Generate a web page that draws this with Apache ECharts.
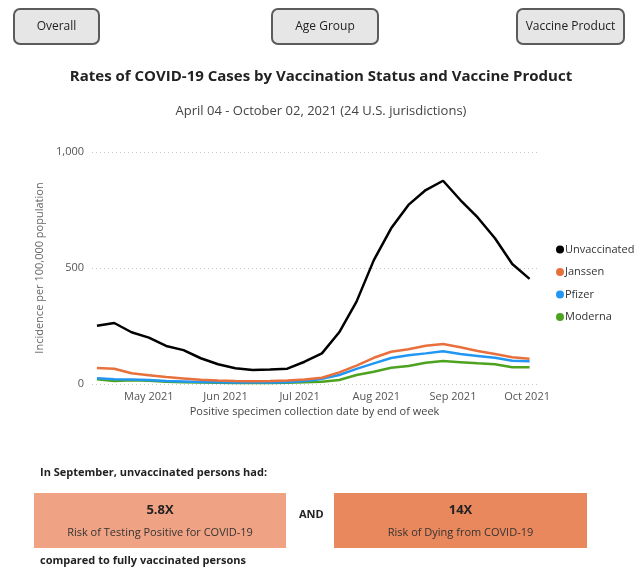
<!DOCTYPE html>
<html>
<head>
<meta charset="utf-8">
<script src="https://cdn.jsdelivr.net/npm/echarts@6/dist/echarts.min.js"></script>
<style>
  html, body { margin: 0; padding: 0; background: #fff; }
  #chart { width: 642px; height: 570px; }
</style>
</head>
<body>
<div id="chart"></div>
<script>
// week ending dates
const weeks = [
  '2021-04-10', '2021-04-17', '2021-04-24', '2021-05-01', '2021-05-08', '2021-05-15',
  '2021-05-22', '2021-05-29', '2021-06-05', '2021-06-12', '2021-06-19', '2021-06-26',
  '2021-07-03', '2021-07-10', '2021-07-17', '2021-07-24', '2021-07-31', '2021-08-07',
  '2021-08-14', '2021-08-21', '2021-08-28', '2021-09-04', '2021-09-11', '2021-09-18',
  '2021-09-25', '2021-10-02'
];

const unvaccinated = [251, 263, 223, 200, 164, 146, 111, 85, 68, 60, 62, 66, 96, 132, 223, 355, 534, 671, 772, 836, 876, 793, 718, 628, 517, 453];
const janssen = [69, 66, 46, 38, 30, 24, 18, 15, 13, 12, 13, 15, 19, 27, 50, 79, 113, 139, 150, 165, 172, 158, 142, 129, 115, 109];
const pfizer = [25, 20, 19, 17, 13, 11, 9, 8, 7, 7, 7, 8, 13, 22, 39, 65, 89, 112, 124, 132, 141, 129, 121, 113, 100, 98];
const moderna = [20, 13, 16, 14, 10, 8, 6, 5, 4, 4, 4, 5, 8, 10, 17, 39, 53, 70, 78, 92, 99, 94, 89, 85, 72, 72];

const seriesNames = ['Unvaccinated', 'Janssen', 'Pfizer', 'Moderna'];
const seriesColors = ['#000000', '#e8703c', '#2196f3', '#4da31f'];
const seriesValues = [unvaccinated, janssen, pfizer, moderna];

const buttonLabels = ['Overall', 'Age Group', 'Vaccine Product'];
const riskValues = ['5.8X', '14X'];
const riskLabels = ['Risk of Testing Positive for COVID-19', 'Risk of Dying from COVID-19'];

const monthNames = ['Jan', 'Feb', 'Mar', 'Apr', 'May', 'Jun', 'Jul', 'Aug', 'Sep', 'Oct', 'Nov', 'Dec'];
const FONT = '"Open Sans", sans-serif';

const chart = echarts.init(document.getElementById('chart'));

// top buttons
const buttonBoxes = [[13, 8, 85, 35], [271, 8, 106, 35], [516, 8, 107, 35]];
const buttons = buttonLabels.map((label, i) => {
  const [x, y, w, h] = buttonBoxes[i];
  return {
    type: 'group',
    left: x, top: y,
    children: [
      {
        type: 'rect',
        shape: { x: 0, y: 0, width: w, height: h, r: 6 },
        style: { fill: '#e6e6e6', stroke: '#5b5b5b', lineWidth: 2 }
      },
      {
        type: 'text',
        x: w / 2, y: h / 2,
        style: {
          text: label, fill: '#222', font: '12px ' + FONT,
          textAlign: 'center', textVerticalAlign: 'middle'
        }
      }
    ]
  };
});

// risk boxes at the bottom
const riskBoxes = [[34, 493, 252, 55, '#f0a384'], [334, 493, 253, 55, '#e9885d']];
const risks = riskValues.map((val, i) => {
  const [x, y, w, h, color] = riskBoxes[i];
  return {
    type: 'group',
    left: x, top: y,
    children: [
      { type: 'rect', shape: { x: 0, y: 0, width: w, height: h }, style: { fill: color } },
      {
        type: 'text', x: w / 2, y: 17,
        style: { text: val, fill: '#222', font: 'bold 13px ' + FONT, textAlign: 'center', textVerticalAlign: 'middle' }
      },
      {
        type: 'text', x: w / 2, y: 40,
        style: { text: riskLabels[i], fill: '#333', font: '11px ' + FONT, textAlign: 'center', textVerticalAlign: 'middle' }
      }
    ]
  };
});

const option = {
  backgroundColor: '#ffffff',
  animation: false,
  title: [
    {
      text: 'Rates of COVID-19 Cases by Vaccination Status and Vaccine Product',
      left: 'center', top: 64,
      textStyle: { fontFamily: FONT, fontSize: 15, fontWeight: 'bold', color: '#222' }
    },
    {
      text: 'April 04 - October 02, 2021 (24 U.S. jurisdictions)',
      left: 'center', top: 100,
      textStyle: { fontFamily: FONT, fontSize: 13, fontWeight: 'normal', color: '#444' }
    }
  ],
  legend: {
    orient: 'vertical',
    left: 551, top: 239,
    icon: 'circle',
    itemWidth: 8, itemHeight: 8, itemGap: 11.5,
    data: seriesNames,
    textStyle: { fontFamily: FONT, fontSize: 11, color: '#333', padding: [0, 0, 0, -4] }
  },
  grid: { left: 92, right: 105, top: 152, bottom: 186 },
  xAxis: {
    type: 'time',
    min: '2021-04-08',
    max: '2021-10-05',
    minInterval: 28 * 86400000,
    maxInterval: 31 * 86400000,
    name: 'Positive specimen collection date by end of week',
    nameLocation: 'middle',
    nameGap: 22,
    nameTextStyle: { fontFamily: FONT, fontSize: 11, color: '#444' },
    axisLine: { show: false },
    axisTick: { show: false },
    splitLine: { show: false },
    axisLabel: {
      fontFamily: FONT, fontSize: 11, color: '#555', margin: 7,
      showMinLabel: false, showMaxLabel: false,
      formatter: v => {
        const d = new Date(v);
        return monthNames[d.getMonth()] + ' ' + d.getFullYear();
      }
    }
  },
  yAxis: {
    type: 'value',
    min: 0, max: 1000, interval: 500,
    name: 'Incidence per 100,000 population',
    nameLocation: 'middle',
    nameGap: 46,
    nameTextStyle: { fontFamily: FONT, fontSize: 11, color: '#666' },
    axisLine: { show: false },
    axisTick: { show: false },
    axisLabel: { fontFamily: FONT, fontSize: 11, color: '#555', margin: 8 },
    splitLine: { lineStyle: { type: [1, 3], color: '#c8c8c8', width: 1 } }
  },
  series: seriesNames.map((name, i) => ({
    name: name,
    type: 'line',
    data: weeks.map((w, j) => [w, seriesValues[i][j]]),
    symbol: 'none',
    color: seriesColors[i],
    lineStyle: { width: 2.5, color: seriesColors[i] },
    z: 10 - i
  })),
  graphic: [
    ...buttons,
    {
      type: 'text', left: 40, top: 467,
      style: { text: 'In September, unvaccinated persons had:', fill: '#222', font: 'bold 11px ' + FONT }
    },
    ...risks,
    {
      type: 'text', left: 299, top: 509,
      style: { text: 'AND', fill: '#222', font: 'bold 11px ' + FONT }
    },
    {
      type: 'text', left: 40, top: 555,
      style: { text: 'compared to fully vaccinated persons', fill: '#222', font: 'bold 11px ' + FONT }
    }
  ]
};

chart.setOption(option);
</script>
</body>
</html>
